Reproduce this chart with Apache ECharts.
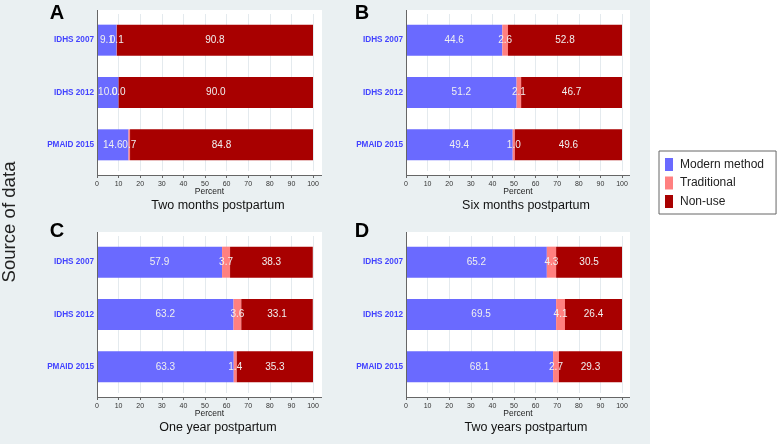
<!DOCTYPE html>
<html>
<head>
<meta charset="utf-8">
<script src="https://cdn.jsdelivr.net/npm/echarts@6/dist/echarts.min.js"></script>
<style>
html,body{margin:0;padding:0;background:#fff;}
#c{width:778px;height:444px;}
</style>
</head>
<body>
<div id="c"></div>
<script>
// ---- data ----
const categories = ['IDHS 2007', 'IDHS 2012', 'PMAID 2015'];
const seriesNames = ['Modern method', 'Traditional', 'Non-use'];
const panelLetters = ['A', 'B', 'C', 'D'];
const panelTitles = ['Two months postpartum', 'Six months postpartum', 'One year postpartum', 'Two years postpartum'];
const xTicks = [0, 10, 20, 30, 40, 50, 60, 70, 80, 90, 100];

const modernA = [9.1, 10.0, 14.6];
const traditionalA = [0.1, 0.0, 0.7];
const nonuseA = [90.8, 90.0, 84.8];

const modernB = [44.6, 51.2, 49.4];
const traditionalB = [2.6, 2.1, 1.0];
const nonuseB = [52.8, 46.7, 49.6];

const modernC = [57.9, 63.2, 63.3];
const traditionalC = [3.7, 3.6, 1.4];
const nonuseC = [38.3, 33.1, 35.3];

const modernD = [65.2, 69.5, 68.1];
const traditionalD = [4.3, 4.1, 2.7];
const nonuseD = [30.5, 26.4, 29.3];

// ---- layout / style ----
const colors = ['#6a6aff', '#ff8080', '#a80000'];
const FONT = 'Liberation Sans, Arial, sans-serif';
const panelData = [
  [modernA, traditionalA, nonuseA],
  [modernB, traditionalB, nonuseB],
  [modernC, traditionalC, nonuseC],
  [modernD, traditionalD, nonuseD]
];
const frames = [
  {x0: 97, w: 216, right: 322, top: 10, axisY: 175, gTop: 14, titleX: 218, letterX: 57, letterY: 13},
  {x0: 406, w: 216, right: 630, top: 10, axisY: 175, gTop: 14, titleX: 526, letterX: 362, letterY: 13},
  {x0: 97, w: 216, right: 322, top: 232, axisY: 397, gTop: 236, titleX: 218, letterX: 57, letterY: 231},
  {x0: 406, w: 216, right: 630, top: 232, axisY: 397, gTop: 236, titleX: 526, letterX: 362, letterY: 231}
];
const gridH = 157;

const grids = [], xAxes = [], yAxes = [], series = [], graphics = [];

graphics.push({type: 'rect', shape: {x: 0, y: 0, width: 650, height: 444}, style: {fill: '#eaf0f2'}, z: -20, silent: true});

frames.forEach((f, i) => {
  grids.push({left: f.x0, top: f.gTop, width: f.w, height: gridH, containLabel: false});
  xAxes.push({
    type: 'value', gridIndex: i, min: xTicks[0], max: xTicks[xTicks.length - 1], interval: xTicks[1] - xTicks[0],
    offset: f.axisY - (f.gTop + gridH),
    axisLine: {show: false},
    axisTick: {show: true, length: 3, lineStyle: {color: '#666'}},
    axisLabel: {fontSize: 7, color: '#333', margin: 6, fontFamily: FONT},
    splitLine: {show: true, lineStyle: {color: '#e4eaee', width: 1}}
  });
  yAxes.push({
    type: 'category', gridIndex: i, data: categories, inverse: true,
    axisLine: {show: false}, axisTick: {show: false},
    axisLabel: {fontSize: 8.2, fontWeight: 'bold', color: '#4444ff', margin: 3, fontFamily: FONT},
    splitLine: {show: false}
  });
  panelData[i].forEach((arr, k) => {
    series.push({
      type: 'bar', name: seriesNames[k], xAxisIndex: i, yAxisIndex: i, stack: 'p' + i,
      barWidth: 31, data: arr,
      itemStyle: {color: colors[k]},
      label: {show: true, position: 'inside', color: '#f0f0f0', fontSize: 10, fontFamily: FONT,
        formatter: p => Number(p.value).toFixed(1)},
      emphasis: {disabled: true}
    });
  });
  graphics.push({type: 'rect', shape: {x: f.x0, y: f.top, width: f.right - f.x0, height: f.axisY - f.top},
    style: {fill: '#ffffff'}, z: -10, silent: true});
  graphics.push({type: 'line', shape: {x1: f.x0 + 0.5, y1: f.top, x2: f.x0 + 0.5, y2: f.axisY}, style: {stroke: '#666', lineWidth: 1}, z: 10, silent: true});
  graphics.push({type: 'line', shape: {x1: f.x0, y1: f.axisY + 0.5, x2: f.right, y2: f.axisY + 0.5}, style: {stroke: '#666', lineWidth: 1}, z: 10, silent: true});
  graphics.push({type: 'text', x: (f.x0 + f.right) / 2, y: f.axisY + 17, z: 10, silent: true,
    style: {text: 'Percent', font: '8.5px ' + FONT, fill: '#222', textAlign: 'center', textVerticalAlign: 'middle'}});
  graphics.push({type: 'text', x: f.titleX, y: f.axisY + 31, z: 10, silent: true,
    style: {text: panelTitles[i], font: '12.5px ' + FONT, fill: '#111', textAlign: 'center', textVerticalAlign: 'middle'}});
  graphics.push({type: 'text', x: f.letterX, y: f.letterY, z: 10, silent: true,
    style: {text: panelLetters[i], font: 'bold 20px ' + FONT, fill: '#000', textAlign: 'center', textVerticalAlign: 'middle'}});
});

graphics.push({type: 'text', x: 10, y: 222, rotation: Math.PI / 2, z: 10, silent: true,
  style: {text: 'Source of data', font: '18.6px ' + FONT, fill: '#222', textAlign: 'center', textVerticalAlign: 'middle'}});

const option = {
  animation: false,
  grid: grids,
  xAxis: xAxes,
  yAxis: yAxes,
  series: series,
  legend: {
    data: seriesNames, orient: 'vertical', left: 659, top: 151,
    itemWidth: 8, itemHeight: 13, itemGap: 5.5, padding: [7, 12, 6, 6],
    borderColor: '#666', borderWidth: 1, backgroundColor: '#fff',
    selectedMode: false,
    textStyle: {fontSize: 12, color: '#222', fontFamily: FONT, padding: [0, 0, 0, 2]},
    icon: 'rect'
  },
  graphic: graphics
};

const chart = echarts.init(document.getElementById('c'));
chart.setOption(option);
</script>
</body>
</html>
